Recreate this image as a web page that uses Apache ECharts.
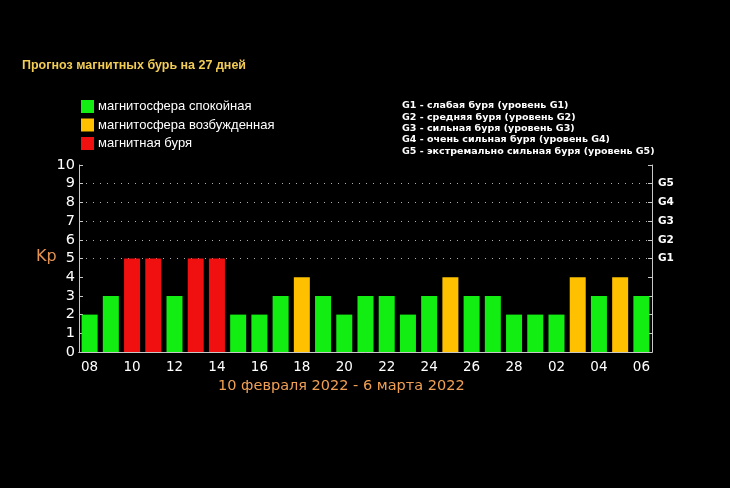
<!DOCTYPE html>
<html>
<head>
<meta charset="utf-8">
<script src="https://cdn.jsdelivr.net/npm/echarts@6/dist/echarts.min.js"></script>
<style>
  html, body { margin: 0; padding: 0; background: #000; }
  #chart { width: 730px; height: 488px; }
</style>
</head>
<body>
<div id="chart"></div>
<script>
// дни прогноза: 8 февраля - 6 марта
const days = ["08","09","10","11","12","13","14","15","16","17","18","19","20","21",
  "22","23","24","25","26","27","28","01","02","03","04","05","06"];
// индекс Kp по дням
const kpValues = [2,3,5,5,3,5,5,2,2,3,4,3,2,3,3,2,3,4,3,3,2,2,2,4,3,4,3];
const levelNames = ["магнитосфера спокойная", "магнитосфера возбужденная", "магнитная буря"];
const levelColors = ["#12ee12", "#ffc000", "#f01010"];
const gLabels = ["", "", "", "", "", "G1", "G2", "G3", "G4", "G5", ""];
const gNotes = [
  "G1 - слабая буря (уровень G1)",
  "G2 - средняя буря (уровень G2)",
  "G3 - сильная буря (уровень G3)",
  "G4 - очень сильная буря (уровень G4)",
  "G5 - экстремально сильная буря (уровень G5)"
];

function levelOf(v) {
  if (v >= 5) return 2;
  if (v === 4) return 1;
  return 0;
}

let myChart = echarts.init(document.getElementById("chart"));
const frame = "#c8c8c8";
const font = "DejaVu Sans";

myChart.setOption({
  backgroundColor: "#000",
  animation: false,
  title: {
    text: "Прогноз магнитных бурь на 27 дней",
    left: 22,
    top: 59,
    padding: 0,
    textStyle: { color: "#f2cc55", fontSize: 12.5, fontWeight: "bold", fontFamily: "Liberation Sans" }
  },
  legend: {
    orient: "vertical",
    left: 81,
    top: 100,
    padding: 0,
    itemWidth: 13,
    itemHeight: 13,
    itemGap: 5.5,
    icon: "rect",
    data: levelNames,
    textStyle: { color: "#fff", fontSize: 13, fontFamily: "Liberation Sans", padding: [0, 0, 0, -1] }
  },
  graphic: [
    {
      type: "text",
      left: 402,
      top: 100,
      style: {
        text: gNotes.join("\n"),
        fill: "#fff",
        font: "bold 9.5px 'DejaVu Sans'",
        lineHeight: 11.4
      }
    },
    {
      type: "text",
      left: 36,
      top: 249,
      style: { text: "Kp", fill: "#e39252", font: "16px 'DejaVu Sans'" }
    },
    {
      type: "text",
      left: 218,
      top: 379,
      style: {
        text: "10 февраля 2022 - 6 марта 2022",
        fill: "#f0a055",
        font: "14.5px 'DejaVu Sans'"
      }
    }
  ],
  grid: { left: 79, right: 78, top: 165, bottom: 136, containLabel: false },
  xAxis: [
    {
      type: "category",
      data: days,
      axisLine: { lineStyle: { color: frame } },
      axisTick: { inside: true, length: 4, interval: 0, lineStyle: { color: frame } },
      axisLabel: { interval: 1, color: "#fff", fontSize: 13.5, fontFamily: font, margin: 8 }
    },
    {
      type: "category",
      position: "top",
      data: days,
      axisLine: { lineStyle: { color: frame } },
      axisTick: { inside: true, length: 4, interval: 0, lineStyle: { color: frame } },
      axisLabel: { show: false }
    }
  ],
  yAxis: [
    {
      type: "value",
      min: 0,
      max: 10,
      interval: 1,
      axisLine: { show: true, lineStyle: { color: frame } },
      axisTick: { show: true, inside: true, length: 4, lineStyle: { color: frame } },
      axisLabel: { color: "#fff", fontSize: 14.5, fontFamily: font, margin: 4 },
      splitLine: {
        show: true,
        lineStyle: {
          type: [1, 6],
          width: 1,
          color: ["transparent", "transparent", "transparent", "transparent", "transparent",
            "#b0b0b0", "#b0b0b0", "#b0b0b0", "#b0b0b0", "#b0b0b0", "transparent"]
        }
      }
    },
    {
      type: "value",
      position: "right",
      min: 0,
      max: 10,
      interval: 1,
      axisLine: { show: true, lineStyle: { color: frame } },
      axisTick: { show: true, inside: true, length: 4, lineStyle: { color: frame } },
      axisLabel: {
        color: "#fff",
        fontSize: 10.5,
        fontWeight: "bold",
        fontFamily: font,
        margin: 6,
        formatter: function (v) { return gLabels[v] || ""; }
      },
      splitLine: { show: false }
    }
  ],
  series: levelNames.map(function (name, li) {
    return {
      name: name,
      type: "bar",
      stack: "kp",
      barWidth: 16,
      itemStyle: { color: levelColors[li] },
      data: kpValues.map(function (v) { return levelOf(v) === li ? v : null; })
    };
  })
});
</script>
</body>
</html>
